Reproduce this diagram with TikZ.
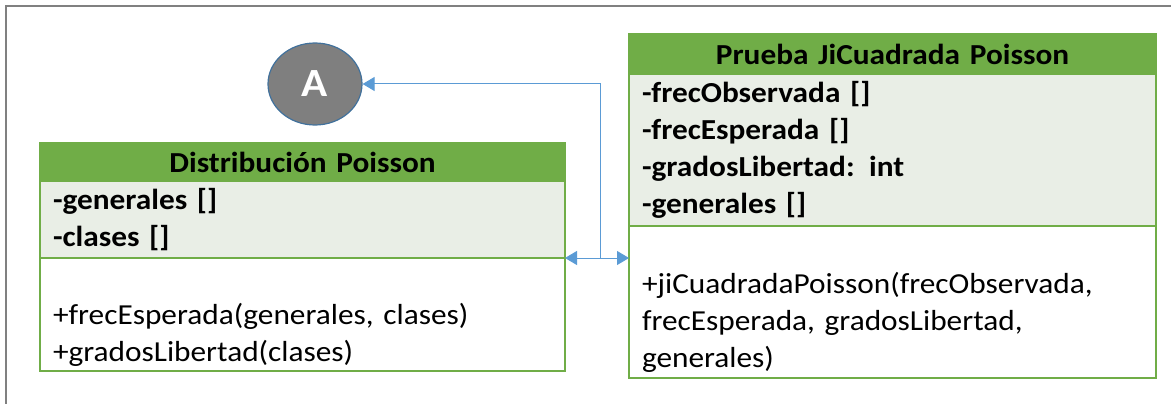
\documentclass[tikz,border=0pt]{standalone}
\usepackage{fontspec}
\setmainfont{Carlito}[FakeStretch=1.08,WordSpace=0.75]
\usetikzlibrary{positioning,arrows.meta,shapes.geometric}
\definecolor{umlgreen}{HTML}{70AD47}
\definecolor{umlattr}{HTML}{E9EEE6}
\definecolor{linkblue}{HTML}{5B9BD5}
\definecolor{circfill}{HTML}{7F7F7F}
\definecolor{circline}{HTML}{41719C}
\definecolor{framegray}{HTML}{808080}

\tikzset{
  uml/.style={draw=umlgreen, line width=1.6pt, rectangle, inner xsep=13pt,
    inner ysep=0pt, outer sep=0pt, align=left, font=\fontsize{29}{37}\selectfont},
  umltitle/.style={uml, fill=umlgreen, align=center, font=\fontsize{29}{37}\selectfont\bfseries},
  umlattrs/.style={uml, fill=umlattr, font=\fontsize{29}{37}\selectfont\bfseries},
  umlops/.style={uml, fill=white},
  link/.style={draw=linkblue, line width=1pt, >={Triangle[length=12pt,width=14pt]}},
}

\begin{document}
\begin{tikzpicture}[x=1pt, y=-1pt]
  \useasboundingbox (0,0) rectangle (1171,404);
  % frame
  \draw[framegray, line width=2pt] (6,404) -- (6,6) -- (1171,6);
  % Distribucion Poisson
  \node[umltitle, text width=499pt, minimum height=38pt, anchor=north west] (dtitle) at (40,143) {Distribución Poisson};
  \node[umlattrs, text width=499pt, minimum height=77pt, below=0pt of dtitle] (dattrs)
    {-generales []\\-clases []};
  \node[umlops, text width=499pt, minimum height=113pt, below=0pt of dattrs] (dops)
    {\strut\\+frecEsperada(generales, clases)\\+gradosLibertad(clases)};
  % Prueba JiCuadrada Poisson
  \node[umltitle, text width=501pt, minimum height=40pt, anchor=north west] (ptitle) at (629,34) {Prueba JiCuadrada Poisson};
  \node[umlattrs, text width=501pt, minimum height=152pt, below=0pt of ptitle] (pattrs)
    {-frecObservada []\\-frecEsperada []\\-gradosLibertad: int\\-generales []};
  \node[umlops, text width=501pt, minimum height=152pt, below=0pt of pattrs] (pops)
    {\strut\\+jiCuadradaPoisson(frecObservada,\\frecEsperada, gradosLibertad,\\generales)};
  % connector A
  \node[ellipse, draw=circline, line width=1.2pt, fill=circfill, minimum width=94pt, minimum height=82pt,
    text=white, font=\fontsize{40}{40}\selectfont\bfseries] (conA) at (315,84) {A};
  % links
  \coordinate (bend) at (600,258);
  \draw[link, <->] (dattrs.south east) -- (dattrs.south east -| pops.west);
  \draw[link, ->] (bend) |- (conA.east);
\end{tikzpicture}
\end{document}
